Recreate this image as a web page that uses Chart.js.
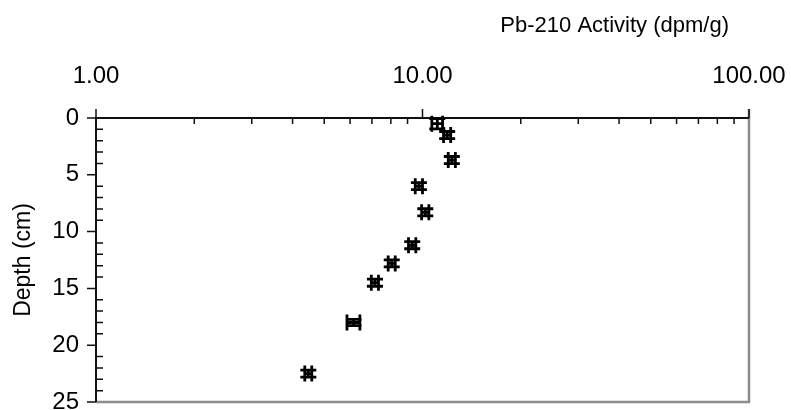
<!DOCTYPE html>
<html>
<head>
<meta charset="utf-8">
<script src="https://cdn.jsdelivr.net/npm/chart.js@4"></script>
<style>
  html, body { margin: 0; padding: 0; background: #fff; }
  #wrap { width: 791px; height: 410px; position: relative; }
</style>
</head>
<body>
<div id="wrap"><canvas id="pb-chart"></canvas></div>
<script>
// Pb-210 activity profile
var activity = [11.1, 11.9, 12.3, 9.75, 10.2, 9.3, 8.05, 7.15, 6.15, 4.47];      // dpm/g
var activityErr = [0.42, 0.3, 0.31, 0.25, 0.26, 0.24, 0.2, 0.18, 0.28, 0.11];  // dpm/g
var depth = [0.5, 1.5, 3.7, 6.0, 8.3, 11.2, 12.8, 14.5, 18.0, 22.5];             // cm
var depthErr = [0.45, 0.31, 0.31, 0.31, 0.31, 0.31, 0.31, 0.31, 0.27, 0.31];     // cm

var xMajorTicks = [1, 10, 100];
var xMinorTicks = [2, 3, 4, 5, 6, 7, 8, 9, 20, 30, 40, 50, 60, 70, 80, 90];
var yMajorTicks = [0, 5, 10, 15, 20, 25];
var yMinorTicks = [1, 2, 3, 4, 6, 7, 8, 9, 11, 12, 13, 14, 16, 17, 18, 19, 21, 22, 23, 24];

var xTitle = 'Pb-210 Activity (dpm/g)';
var yTitle = 'Depth (cm)';

var FONT = '"Liberation Sans", Arial, sans-serif';

// axes frame, tick marks, titles and the "#" error-bar markers
var framePlugin = {
  id: 'frame',
  afterDatasetsDraw: function (chart) {
    var ctx = chart.ctx;
    var a = chart.chartArea;
    var xs = chart.scales.x;
    var ys = chart.scales.y;
    ctx.save();

    // right + bottom frame in grey
    ctx.strokeStyle = '#8c8c8c';
    ctx.lineWidth = 2.5;
    ctx.beginPath();
    ctx.moveTo(a.right, a.top - 9);
    ctx.lineTo(a.right, a.bottom);
    ctx.lineTo(a.left, a.bottom);
    ctx.stroke();

    // top and left axes
    ctx.strokeStyle = '#111';
    ctx.lineWidth = 2;
    ctx.beginPath();
    ctx.moveTo(a.left, a.bottom);
    ctx.lineTo(a.left, a.top);
    ctx.lineTo(a.right, a.top);
    ctx.stroke();

    ctx.lineWidth = 1.5;
    ctx.beginPath();
    xMajorTicks.forEach(function (v) {
      var px = xs.getPixelForValue(v);
      ctx.moveTo(px, a.top);
      ctx.lineTo(px, a.top - 9);
    });
    xMinorTicks.forEach(function (v) {
      var px = xs.getPixelForValue(v);
      ctx.moveTo(px, a.top);
      ctx.lineTo(px, a.top + 6);
    });
    yMajorTicks.forEach(function (v) {
      var py = ys.getPixelForValue(v);
      ctx.moveTo(a.left, py);
      ctx.lineTo(a.left - 9, py);
    });
    yMinorTicks.forEach(function (v) {
      var py = ys.getPixelForValue(v);
      ctx.moveTo(a.left, py);
      ctx.lineTo(a.left + 7, py);
    });
    ctx.stroke();

    // markers: x and y error bars with caps -> "#"
    var cap = 8;
    ctx.strokeStyle = '#000';
    ctx.lineWidth = 2.8;
    ctx.beginPath();
    for (var i = 0; i < activity.length; i++) {
      var cx = xs.getPixelForValue(activity[i]);
      var cy = ys.getPixelForValue(depth[i]);
      var x0 = xs.getPixelForValue(activity[i] - activityErr[i]);
      var x1 = xs.getPixelForValue(activity[i] + activityErr[i]);
      var y0 = ys.getPixelForValue(depth[i] - depthErr[i]);
      var y1 = ys.getPixelForValue(depth[i] + depthErr[i]);
      ctx.moveTo(x0, cy); ctx.lineTo(x1, cy);
      ctx.moveTo(x0, cy - cap); ctx.lineTo(x0, cy + cap);
      ctx.moveTo(x1, cy - cap); ctx.lineTo(x1, cy + cap);
      ctx.moveTo(cx, y0); ctx.lineTo(cx, y1);
      ctx.moveTo(cx - cap, y0); ctx.lineTo(cx + cap, y0);
      ctx.moveTo(cx - cap, y1); ctx.lineTo(cx + cap, y1);
    }
    ctx.stroke();

    // titles
    ctx.fillStyle = '#000';
    ctx.font = '22px ' + FONT;
    ctx.textAlign = 'right';
    ctx.textBaseline = 'middle';
    ctx.fillText(xTitle, a.right - 20, 26);

    ctx.font = '23px ' + FONT;
    ctx.translate(24, (a.top + a.bottom) / 2);
    ctx.rotate(-Math.PI / 2);
    ctx.textAlign = 'center';
    ctx.fillText(yTitle, 0, 0);
    ctx.restore();
  }
};

var points = activity.map(function (v, i) { return { x: v, y: depth[i] }; });

new Chart(document.getElementById('pb-chart').getContext('2d'), {
  type: 'scatter',
  data: {
    datasets: [{
      label: 'Pb-210',
      data: points,
      pointRadius: 0,
      pointHoverRadius: 0,
      showLine: false
    }]
  },
  options: {
    responsive: true,
    maintainAspectRatio: false,
    animation: false,
    events: [],
    layout: { padding: { top: 0, left: 0, right: 42, bottom: 8 } },
    plugins: { legend: { display: false }, tooltip: { enabled: false } },
    scales: {
      x: {
        type: 'logarithmic',
        position: 'top',
        min: 1,
        max: 100,
        afterBuildTicks: function (scale) {
          scale.ticks = xMajorTicks.map(function (v) { return { value: v, major: true }; });
        },
        afterFit: function (scale) {
          scale.height = 118;
          scale.paddingLeft = 0;
          scale.paddingRight = 0;
        },
        ticks: {
          autoSkip: false,
          maxRotation: 0,
          padding: 27,
          color: '#000',
          font: { family: FONT, size: 24 },
          callback: function (v) { return Number(v).toFixed(2); }
        },
        grid: { display: false, drawTicks: false },
        border: { display: false }
      },
      y: {
        type: 'linear',
        position: 'left',
        reverse: true,
        min: 0,
        max: 25,
        afterBuildTicks: function (scale) {
          scale.ticks = yMajorTicks.map(function (v) { return { value: v }; });
        },
        afterFit: function (scale) {
          scale.width = 96;
          scale.paddingTop = 0;
          scale.paddingBottom = 0;
        },
        ticks: {
          autoSkip: false,
          padding: 17,
          color: '#000',
          font: { family: FONT, size: 24 }
        },
        grid: { display: false, drawTicks: false },
        border: { display: false }
      }
    }
  },
  plugins: [framePlugin]
});
</script>
</body>
</html>
